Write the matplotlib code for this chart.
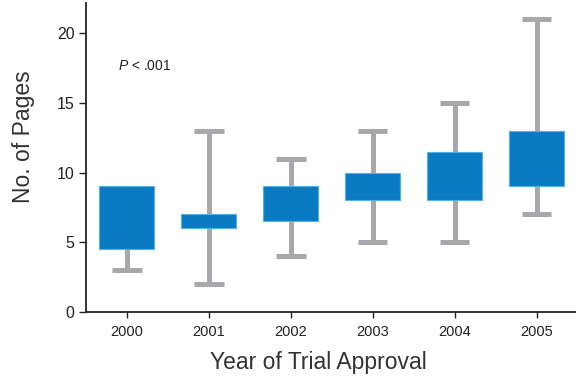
import matplotlib
matplotlib.use("Agg")
import matplotlib.pyplot as plt

# Box plot values
years = ["2000", "2001", "2002", "2003", "2004", "2005"]
q1 = [4.5, 6, 6.5, 8, 8, 9]
q3 = [9, 7, 9, 10, 11.5, 13]
whis_lo = [3, 2, 4, 5, 5, 7]
whis_hi = [9, 13, 11, 13, 15, 21]

plt.rcParams['font.family'] = ['Liberation Sans', 'DejaVu Sans']
plt.rcParams['mathtext.fontset'] = 'custom'
plt.rcParams['mathtext.it'] = 'Liberation Sans:italic'
plt.rcParams['mathtext.rm'] = 'Liberation Sans'

fig = plt.figure(figsize=(5.76, 3.76), dpi=100)
ax = fig.add_axes([0.149, 0.170, 0.851, 0.822])

stats = []
for i, y in enumerate(years):
    stats.append(dict(label=y, q1=q1[i], q3=q3[i], med=q1[i],
                      whislo=whis_lo[i], whishi=whis_hi[i], fliers=[]))

gray = '#a7a8ac'
blue = '#0a7bc2'
parts = ax.bxp(stats, positions=range(len(years)), widths=0.67, patch_artist=True,
               showfliers=False,
               boxprops=dict(facecolor=blue, edgecolor='#55b0e6', linewidth=0.8, zorder=3),
               whiskerprops=dict(color=gray, linewidth=3.6, solid_capstyle='butt', zorder=2),
               capprops=dict(color=gray, linewidth=3.6, solid_capstyle='butt', zorder=2),
               capwidths=0.36,
               medianprops=dict(visible=False))

# no cap where the whisker has zero length (2000 upper)
for i in range(len(years)):
    if whis_hi[i] <= q3[i]:
        parts['caps'][2 * i + 1].set_visible(False)
    if whis_lo[i] >= q1[i]:
        parts['caps'][2 * i].set_visible(False)

ax.set_xlim(-0.5, 5.48)
ax.set_ylim(0, 22.15)
ax.set_yticks([0, 5, 10, 15, 20])
ax.set_xticks(range(len(years)))
ax.set_xticklabels(years)

for s in ['top', 'right']:
    ax.spines[s].set_visible(False)
for s in ['left', 'bottom']:
    ax.spines[s].set_linewidth(1.3)
    ax.spines[s].set_color('#222222')

ax.tick_params(axis='y', length=5, width=1, labelsize=11.5, colors='#222222', pad=3)
ax.tick_params(axis='x', length=4, width=1, labelsize=10.5, colors='#222222', pad=5)

ax.set_ylabel('No. of Pages', fontsize=16.5, color='#333333')
ax.set_xlabel('Year of Trial Approval', fontsize=16.5, color='#333333')
ax.yaxis.set_label_coords(-0.104, 0.566)
ax.xaxis.set_label_coords(0.474, -0.125)

ax.text(-0.11, 17.6, r'$P$ < .001', fontsize=10, color='#222222', va='center')

fig.savefig('out.png', dpi=100)
